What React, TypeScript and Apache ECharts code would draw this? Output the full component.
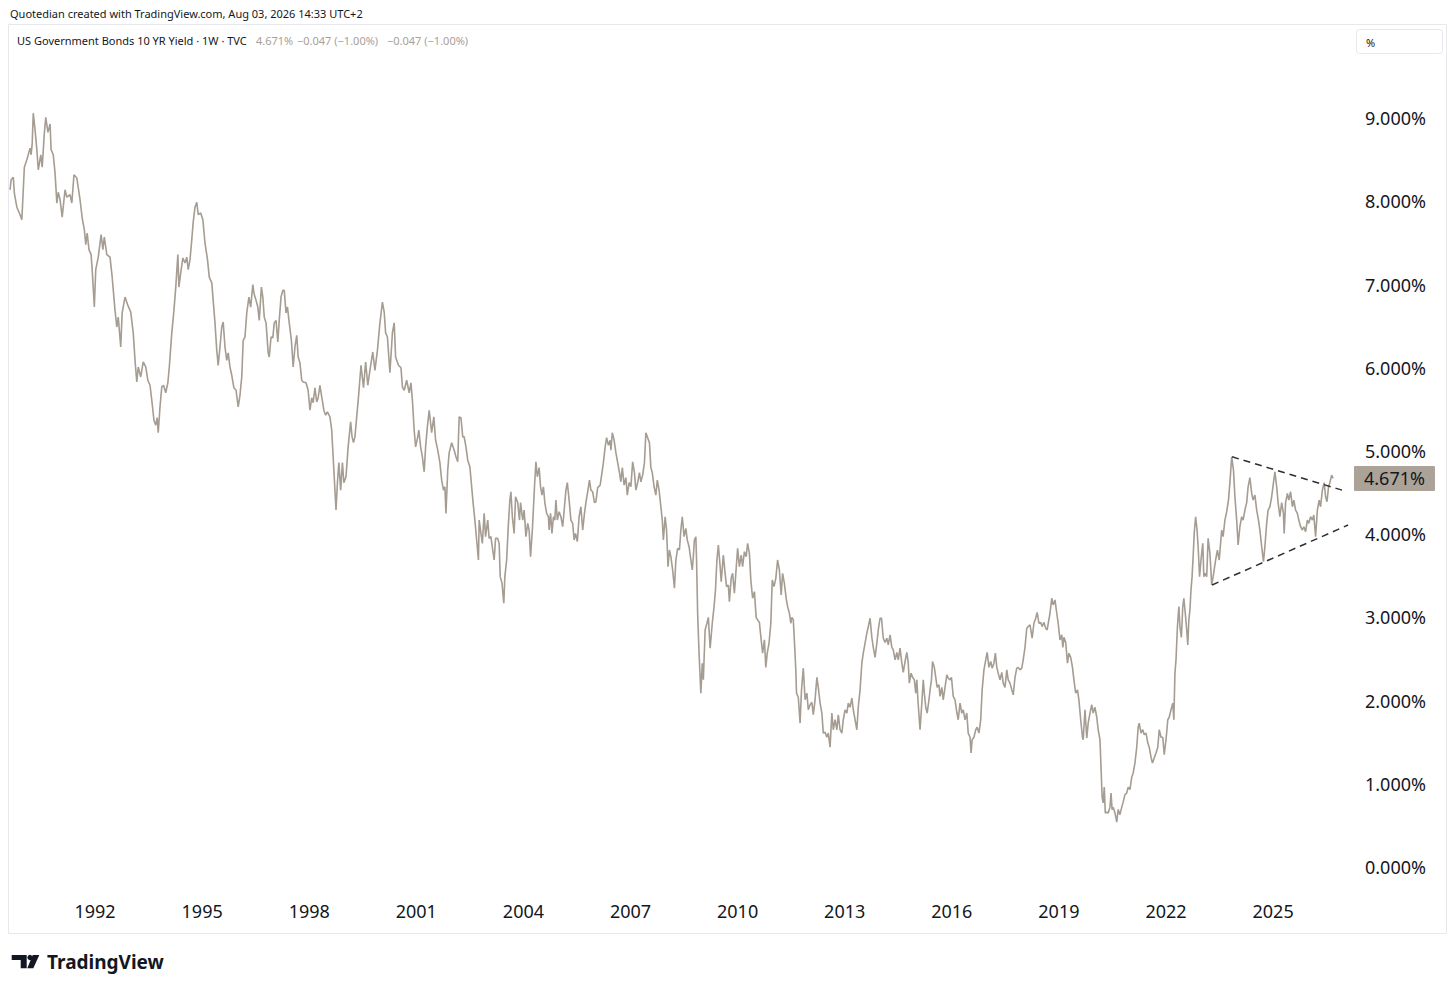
import React, { useEffect, useRef } from "react";
import * as echarts from "echarts";

// Weekly-ish US 10Y yield, [decimal year, yield %]
const yieldPoints: [number, number][] = [
  [1989.62,8.14],[1989.65,8.26],[1989.71,8.29],[1989.74,8.10],[1989.81,7.93],[1989.90,7.84],[1989.95,7.78],[1990.02,8.41],[1990.09,8.50],[1990.18,8.64],[1990.21,8.56],[1990.24,8.70],[1990.27,9.06],[1990.32,8.86],[1990.37,8.62],[1990.41,8.38],[1990.48,8.56],[1990.52,8.41],[1990.58,8.82],[1990.62,9.01],[1990.68,8.83],[1990.74,8.93],[1990.77,8.62],[1990.83,8.56],[1990.88,8.34],[1990.93,7.98],[1990.97,8.11],[1991.02,8.02],[1991.08,7.81],[1991.16,8.14],[1991.21,8.05],[1991.30,8.08],[1991.35,7.98],[1991.41,8.32],[1991.49,8.28],[1991.58,8.02],[1991.64,7.80],[1991.70,7.66],[1991.74,7.48],[1991.78,7.62],[1991.83,7.42],[1991.89,7.36],[1991.92,7.18],[1991.98,6.73],
  [1992.02,7.18],[1992.09,7.33],[1992.17,7.60],[1992.22,7.42],[1992.26,7.57],[1992.33,7.36],[1992.42,7.33],[1992.48,7.09],[1992.56,6.69],[1992.61,6.49],[1992.65,6.61],[1992.72,6.25],[1992.76,6.66],[1992.84,6.85],[1992.92,6.75],[1993.00,6.67],[1993.07,6.42],[1993.12,6.09],[1993.17,5.83],[1993.21,6.01],[1993.28,5.89],[1993.35,6.07],[1993.42,6.01],[1993.48,5.85],[1993.54,5.79],[1993.59,5.61],[1993.65,5.37],[1993.70,5.31],[1993.74,5.40],[1993.77,5.22],[1993.82,5.53],[1993.87,5.77],[1993.92,5.79],[1993.98,5.70],[1994.04,5.82],[1994.08,6.01],[1994.15,6.42],[1994.21,6.69],[1994.26,6.96],[1994.32,7.36],[1994.35,6.97],[1994.40,7.14],[1994.46,7.32],
  [1994.52,7.26],[1994.57,7.33],[1994.61,7.18],[1994.66,7.30],[1994.71,7.54],[1994.75,7.75],[1994.80,7.93],[1994.85,7.99],[1994.89,7.84],[1994.96,7.86],[1995.02,7.78],[1995.08,7.50],[1995.15,7.30],[1995.20,7.09],[1995.27,7.02],[1995.31,6.81],[1995.36,6.54],[1995.41,6.21],[1995.45,6.03],[1995.50,6.25],[1995.55,6.49],[1995.59,6.55],[1995.64,6.25],[1995.69,6.09],[1995.73,6.18],[1995.78,6.01],[1995.83,5.91],[1995.89,5.76],[1995.95,5.73],[1996.01,5.53],[1996.06,5.67],[1996.11,5.89],[1996.15,6.33],[1996.20,6.37],[1996.25,6.66],[1996.31,6.85],[1996.36,6.73],[1996.42,7.00],[1996.45,6.90],[1996.51,6.81],[1996.56,6.73],[1996.60,6.57],[1996.66,6.97],[1996.70,6.85],[1996.74,6.61],[1996.79,6.54],[1996.85,6.18],[1996.88,6.13],[1996.93,6.37],[1996.98,6.36],
  [1997.02,6.54],[1997.07,6.57],[1997.12,6.31],[1997.16,6.57],[1997.21,6.85],[1997.26,6.93],[1997.30,6.93],[1997.35,6.66],[1997.39,6.73],[1997.44,6.54],[1997.50,6.33],[1997.55,6.01],[1997.60,6.25],[1997.65,6.39],[1997.69,6.13],[1997.74,6.06],[1997.79,5.85],[1997.83,5.83],[1997.91,5.82],[1997.97,5.73],[1998.02,5.49],[1998.07,5.64],[1998.11,5.58],[1998.16,5.76],[1998.21,5.59],[1998.25,5.64],[1998.30,5.79],[1998.35,5.65],[1998.41,5.49],[1998.46,5.43],[1998.51,5.47],[1998.58,5.41],[1998.63,5.25],[1998.67,4.93],[1998.72,4.53],[1998.75,4.29],[1998.79,4.62],[1998.83,4.86],[1998.88,4.53],[1998.93,4.86],[1998.97,4.62],[1999.03,4.69],[1999.09,5.05],[1999.16,5.35],[1999.20,5.17],[1999.24,5.10],
  [1999.28,5.17],[1999.38,5.65],[1999.45,6.03],[1999.52,5.76],[1999.58,6.07],[1999.64,5.79],[1999.70,5.97],[1999.78,6.19],[1999.84,5.97],[1999.91,6.21],[1999.98,6.54],[2000.05,6.79],[2000.10,6.67],[2000.14,6.42],[2000.19,6.37],[2000.26,5.94],[2000.33,6.42],[2000.38,6.54],[2000.42,6.13],[2000.50,6.03],[2000.57,6.00],[2000.61,5.77],[2000.66,5.73],[2000.73,5.85],[2000.80,5.70],[2000.85,5.82],[2000.89,5.61],[2000.94,5.25],[2000.98,5.05],[2001.04,5.17],[2001.07,5.25],[2001.12,5.05],[2001.17,4.93],[2001.22,4.75],[2001.26,5.05],[2001.31,5.29],[2001.36,5.49],[2001.43,5.22],[2001.49,5.41],[2001.54,5.13],[2001.60,5.01],[2001.66,4.86],[2001.71,4.65],[2001.76,4.53],[2001.80,4.57],[2001.83,4.25],[2001.88,4.77],[2001.92,4.98],[2001.99,5.10],
  [2002.06,5.01],[2002.11,4.93],[2002.16,4.87],[2002.20,5.41],[2002.25,5.40],[2002.30,5.17],[2002.34,5.17],[2002.39,5.05],[2002.44,4.89],[2002.50,4.81],[2002.55,4.57],[2002.59,4.38],[2002.64,4.17],[2002.69,3.93],[2002.74,3.69],[2002.76,4.17],[2002.81,4.01],[2002.85,3.89],[2002.90,4.25],[2002.94,3.97],[2003.00,4.17],[2003.04,3.95],[2003.09,3.97],[2003.14,3.81],[2003.18,3.69],[2003.22,3.95],[2003.28,3.95],[2003.32,3.89],[2003.35,3.49],[2003.40,3.41],[2003.45,3.17],[2003.48,3.49],[2003.53,3.69],[2003.58,4.13],[2003.62,4.41],[2003.65,4.51],[2003.69,4.21],[2003.74,4.01],[2003.78,4.45],[2003.84,4.38],[2003.89,4.17],[2003.92,4.38],[2003.98,4.17],[2004.02,4.29],[2004.07,3.97],[2004.12,4.13],[2004.16,4.05],[2004.20,3.73],[2004.25,4.05],[2004.31,4.57],
  [2004.35,4.87],[2004.39,4.69],[2004.44,4.80],[2004.48,4.57],[2004.52,4.47],[2004.56,4.57],[2004.60,4.38],[2004.65,4.25],[2004.70,4.21],[2004.72,4.05],[2004.76,4.25],[2004.80,4.01],[2004.84,4.21],[2004.88,4.17],[2004.91,4.41],[2004.95,4.17],[2005.00,4.27],[2005.05,4.21],[2005.10,4.09],[2005.15,4.33],[2005.19,4.53],[2005.23,4.62],[2005.28,4.41],[2005.33,4.17],[2005.38,4.13],[2005.42,3.93],[2005.46,4.01],[2005.51,3.91],[2005.56,4.21],[2005.61,4.33],[2005.66,4.05],[2005.71,4.25],[2005.75,4.38],[2005.80,4.51],[2005.85,4.65],[2005.89,4.53],[2005.94,4.51],[2005.99,4.38],[2006.03,4.39],[2006.08,4.56],[2006.15,4.59],[2006.19,4.71],[2006.24,4.86],[2006.29,5.05],[2006.33,5.16],[2006.38,5.07],[2006.43,5.13],[2006.45,5.01],[2006.49,5.22],[2006.54,5.13],[2006.59,4.98],[2006.64,4.86],[2006.69,4.74],[2006.73,4.63],[2006.77,4.80],[2006.82,4.59],[2006.87,4.68],[2006.91,4.47],[2006.96,4.62],
  [2007.01,4.57],[2007.06,4.87],[2007.11,4.74],[2007.15,4.53],[2007.20,4.62],[2007.25,4.74],[2007.29,4.63],[2007.34,4.71],[2007.39,4.86],[2007.43,5.22],[2007.48,5.16],[2007.53,5.10],[2007.57,4.80],[2007.61,4.74],[2007.66,4.57],[2007.71,4.47],[2007.75,4.65],[2007.80,4.53],[2007.85,4.33],[2007.89,4.17],[2007.92,3.93],[2007.97,4.21],[2008.01,4.05],[2008.05,3.61],[2008.09,3.81],[2008.13,3.73],[2008.18,3.57],[2008.23,3.35],[2008.27,3.69],[2008.32,3.83],[2008.37,3.81],[2008.41,4.05],[2008.45,4.21],[2008.50,3.97],[2008.55,4.07],[2008.59,3.93],[2008.64,3.85],[2008.69,3.69],[2008.73,3.57],[2008.76,3.73],[2008.79,3.93],[2008.83,3.97],[2008.85,3.69],[2008.88,3.05],[2008.92,2.57],[2008.97,2.09],[2009.01,2.45],[2009.04,2.25],[2009.09,2.85],[2009.14,2.93],
  [2009.18,3.00],[2009.23,2.63],[2009.29,2.93],[2009.34,3.13],[2009.38,3.33],[2009.42,3.69],[2009.46,3.87],[2009.51,3.61],[2009.54,3.43],[2009.60,3.75],[2009.65,3.53],[2009.69,3.37],[2009.74,3.39],[2009.77,3.19],[2009.82,3.47],[2009.86,3.53],[2009.91,3.29],[2009.95,3.53],[2010.00,3.83],[2010.05,3.61],[2010.10,3.75],[2010.14,3.61],[2010.19,3.79],[2010.24,3.73],[2010.28,3.89],[2010.33,3.77],[2010.37,3.45],[2010.42,3.23],[2010.47,3.31],[2010.52,3.00],[2010.56,2.97],[2010.61,2.94],[2010.66,2.73],[2010.70,2.57],[2010.75,2.73],[2010.79,2.40],[2010.83,2.57],[2010.88,2.69],[2010.93,2.93],[2010.97,3.45],[2011.02,3.37],[2011.07,3.47],[2011.12,3.69],[2011.17,3.57],[2011.22,3.27],[2011.26,3.53],[2011.31,3.41],[2011.36,3.23],[2011.40,3.13],[2011.45,3.05],[2011.49,2.93],[2011.52,3.00],[2011.56,2.97],[2011.60,2.64],[2011.63,2.37],[2011.65,2.09],[2011.70,2.04],[2011.75,1.73],[2011.79,2.13],[2011.84,2.39],[2011.89,2.01],[2011.94,2.09],[2011.98,1.89],
  [2012.03,1.95],[2012.08,1.98],[2012.12,1.83],[2012.17,2.01],[2012.22,2.28],[2012.26,2.16],[2012.31,1.97],[2012.36,1.85],[2012.40,1.61],[2012.45,1.62],[2012.50,1.56],[2012.54,1.61],[2012.59,1.44],[2012.64,1.85],[2012.68,1.65],[2012.73,1.77],[2012.78,1.65],[2012.82,1.83],[2012.87,1.65],[2012.92,1.61],[2012.96,1.77],[2013.01,1.89],[2013.06,1.85],[2013.10,1.97],[2013.15,1.92],[2013.20,2.03],[2013.24,1.89],[2013.29,1.77],[2013.34,1.65],[2013.38,1.92],[2013.43,2.13],[2013.48,2.45],[2013.52,2.57],[2013.57,2.69],[2013.62,2.81],[2013.66,2.89],[2013.71,2.99],[2013.76,2.76],[2013.80,2.64],[2013.85,2.52],[2013.90,2.69],[2013.94,2.85],[2013.99,2.99],[2014.03,2.99],
  [2014.08,2.75],[2014.13,2.70],[2014.18,2.75],[2014.22,2.67],[2014.27,2.79],[2014.32,2.64],[2014.36,2.61],[2014.41,2.49],[2014.46,2.58],[2014.50,2.49],[2014.55,2.63],[2014.60,2.45],[2014.64,2.34],[2014.69,2.47],[2014.74,2.58],[2014.78,2.45],[2014.81,2.21],[2014.86,2.33],[2014.90,2.28],[2014.95,2.25],[2014.99,2.09],[2015.02,2.25],[2015.05,2.01],[2015.09,1.77],[2015.11,1.65],[2015.16,1.97],[2015.20,2.25],[2015.23,2.09],[2015.27,1.92],[2015.31,1.85],[2015.36,2.01],[2015.40,2.16],[2015.43,2.25],[2015.46,2.47],[2015.51,2.40],[2015.55,2.28],[2015.59,2.16],[2015.64,2.19],[2015.67,2.05],[2015.72,2.16],[2015.76,2.01],[2015.81,2.16],[2015.86,2.31],[2015.90,2.27],[2015.95,2.25],[2015.99,2.28],
  [2016.04,2.05],[2016.09,2.01],[2016.14,1.86],[2016.18,1.77],[2016.23,1.97],[2016.28,1.85],[2016.32,1.89],[2016.37,1.77],[2016.42,1.85],[2016.46,1.61],[2016.51,1.56],[2016.54,1.37],[2016.57,1.53],[2016.62,1.56],[2016.67,1.65],[2016.71,1.68],[2016.76,1.61],[2016.81,1.77],[2016.85,2.13],[2016.90,2.37],[2016.95,2.49],[2016.99,2.58],[2017.04,2.40],[2017.09,2.47],[2017.13,2.39],[2017.18,2.45],[2017.22,2.57],[2017.26,2.40],[2017.30,2.33],[2017.35,2.25],[2017.40,2.34],[2017.44,2.21],[2017.49,2.16],[2017.54,2.37],[2017.58,2.25],[2017.63,2.21],[2017.68,2.13],[2017.72,2.07],[2017.77,2.28],[2017.82,2.39],[2017.86,2.40],[2017.91,2.37],[2017.96,2.39],
  [2018.00,2.49],[2018.05,2.64],[2018.10,2.87],[2018.14,2.89],[2018.19,2.91],[2018.25,2.75],[2018.30,2.93],[2018.35,2.99],[2018.39,3.06],[2018.44,2.93],[2018.49,2.94],[2018.53,2.89],[2018.58,2.94],[2018.63,2.87],[2018.67,2.85],[2018.75,3.05],[2018.80,3.23],[2018.84,3.15],[2018.89,3.21],[2018.94,3.05],[2018.98,2.93],[2019.03,2.73],[2019.08,2.79],[2019.11,2.64],[2019.14,2.76],[2019.19,2.70],[2019.24,2.45],[2019.28,2.57],[2019.33,2.52],[2019.38,2.40],[2019.42,2.25],[2019.47,2.09],[2019.52,2.13],[2019.56,2.01],[2019.61,1.77],[2019.66,1.56],[2019.68,1.53],[2019.73,1.89],[2019.78,1.55],[2019.82,1.73],[2019.87,1.85],[2019.92,1.95],[2019.96,1.85],
  [2020.01,1.92],[2020.06,1.80],[2020.10,1.65],[2020.15,1.53],[2020.18,1.20],[2020.21,0.84],[2020.24,0.77],[2020.27,0.96],[2020.30,0.65],[2020.34,0.66],[2020.38,0.65],[2020.43,0.72],[2020.46,0.89],[2020.49,0.69],[2020.52,0.72],[2020.57,0.65],[2020.62,0.54],[2020.66,0.69],[2020.71,0.63],[2020.76,0.72],[2020.80,0.78],[2020.85,0.87],[2020.90,0.89],[2020.94,0.96],[2020.99,0.93],[2021.04,1.08],[2021.08,1.13],[2021.13,1.25],[2021.18,1.44],[2021.22,1.68],[2021.25,1.73],[2021.30,1.61],[2021.35,1.65],[2021.39,1.59],[2021.44,1.61],[2021.49,1.49],[2021.53,1.44],[2021.58,1.32],[2021.62,1.25],[2021.67,1.31],[2021.72,1.37],[2021.77,1.44],[2021.81,1.65],[2021.86,1.56],[2021.91,1.56],[2021.95,1.35],
  [2022.00,1.53],[2022.05,1.77],[2022.09,1.80],[2022.14,1.89],[2022.19,1.97],[2022.22,1.77],[2022.25,2.33],[2022.28,2.49],[2022.32,2.89],[2022.36,3.13],[2022.39,2.89],[2022.43,2.76],[2022.47,3.13],[2022.50,3.23],[2022.54,3.05],[2022.58,2.85],[2022.61,2.67],[2022.64,2.97],[2022.67,3.09],[2022.70,3.33],[2022.73,3.49],[2022.76,3.73],[2022.79,4.01],[2022.83,4.21],[2022.87,4.05],[2022.90,3.85],[2022.94,3.49],[2022.98,3.69],[2023.03,3.89],[2023.06,3.49],[2023.10,3.53],[2023.14,3.49],[2023.18,3.95],[2023.23,3.77],[2023.28,3.39],[2023.32,3.49],[2023.39,3.69],[2023.44,3.81],[2023.49,3.69],[2023.56,4.05],[2023.60,3.97],[2023.65,4.17],[2023.70,4.27],[2023.75,4.41],[2023.79,4.62],[2023.84,4.93],[2023.89,4.77],[2023.93,4.45],[2023.98,4.17],
  [2024.02,3.87],[2024.07,4.09],[2024.12,4.21],[2024.16,4.17],[2024.21,4.29],[2024.26,4.38],[2024.30,4.57],[2024.35,4.68],[2024.40,4.49],[2024.44,4.41],[2024.49,4.47],[2024.54,4.29],[2024.59,4.17],[2024.63,4.05],[2024.68,3.85],[2024.73,3.67],[2024.77,3.85],[2024.82,4.13],[2024.86,4.29],[2024.91,4.33],[2024.96,4.45],[2025.01,4.62],[2025.05,4.75],[2025.10,4.57],[2025.14,4.38],[2025.19,4.21],[2025.24,4.38],[2025.29,4.25],[2025.31,4.01],[2025.35,4.38],[2025.40,4.49],[2025.44,4.41],[2025.49,4.51],[2025.54,4.33],[2025.58,4.41],[2025.63,4.29],[2025.68,4.25],[2025.72,4.17],[2025.77,4.09],[2025.82,4.05],[2025.86,4.09],[2025.91,4.03],[2025.96,4.17],
  [2026.00,4.13],[2026.05,4.21],[2026.10,4.17],[2026.14,4.23],[2026.19,3.97],[2026.24,4.29],[2026.29,4.41],[2026.33,4.33],[2026.38,4.53],[2026.43,4.62],[2026.47,4.45],[2026.51,4.39],[2026.55,4.56],[2026.59,4.62],[2026.64,4.71],[2026.68,4.671],
];

// Hand-drawn triangle trend lines
const upperTrend: [number, number][] = [[2023.85, 4.93], [2026.93, 4.53]];
const lowerTrend: [number, number][] = [[2023.29, 3.39], [2027.1, 4.11]];

const xTickYears = [1992, 1995, 1998, 2001, 2004, 2007, 2010, 2013, 2016, 2019, 2022, 2025];
const yTickValues = [0, 1, 2, 3, 4, 5, 6, 7, 8, 9];
const lastValue = 4.671;

const headerTitle = "Quotedian created with TradingView.com, Aug 03, 2026 14:33 UTC+2";
const legendName = "US Government Bonds 10 YR Yield · 1W · TVC";
const legendValue = "4.671%";
const legendChange = "\u22120.047 (\u22121.00%)";

const LINE_COLOR = "#a59c92";
const TEXT_COLOR = "#131722";
const FONT = "'Noto Sans', sans-serif";

export default function App() {
  const ref = useRef<HTMLDivElement>(null);

  useEffect(() => {
    document.body.style.margin = "0";
    const chart = echarts.init(ref.current!, undefined, { renderer: "svg" });
    chart.setOption({
      animation: false,
      backgroundColor: "#ffffff",
      grid: { left: 9, right: 104, top: 18, bottom: 102, containLabel: false },
      xAxis: {
        type: "value",
        min: 1989.59,
        max: 2027.21,
        axisLine: { show: false },
        axisTick: { show: false },
        splitLine: { show: false },
        axisLabel: {
          customValues: xTickYears,
          formatter: (v: number) => String(Math.round(v)),
          color: TEXT_COLOR,
          fontSize: 18,
          fontFamily: FONT,
          margin: 12,
        },
      },
      yAxis: {
        type: "value",
        position: "right",
        min: -0.276,
        max: 10.204,
        axisLine: { show: false },
        axisTick: { show: false },
        splitLine: { show: false },
        axisLabel: {
          customValues: yTickValues,
          formatter: (v: number) => v.toFixed(3) + "%",
          color: TEXT_COLOR,
          fontSize: 18,
          fontFamily: FONT,
          margin: 13,
        },
      },
      series: [
        {
          type: "line",
          data: yieldPoints,
          showSymbol: false,
          symbol: "none",
          lineStyle: { color: LINE_COLOR, width: 1.6 },
          z: 3,
          markLine: {
            silent: true,
            symbol: "none",
            lineStyle: { color: "rgba(0,0,0,0)", width: 1, type: "solid" },
            data: [{ yAxis: lastValue }],
            label: {
              show: true,
              position: "end",
              distance: 2,
              formatter: lastValue.toFixed(3) + "%",
              backgroundColor: "#aba298",
              color: TEXT_COLOR,
              fontSize: 18,
              fontFamily: FONT,
              padding: [4, 10, 3, 10],
              borderRadius: 1,
            },
          },
        },
        {
          type: "line",
          data: upperTrend,
          symbol: "none",
          lineStyle: { color: "#2f2f2f", width: 1.5, type: [7, 5] },
          z: 4,
        },
        {
          type: "line",
          data: lowerTrend,
          symbol: "none",
          lineStyle: { color: "#2f2f2f", width: 1.5, type: [7, 5] },
          z: 4,
        },
      ],
      graphic: [
        {
          type: "rect",
          shape: { x: 8.5, y: 24.5, width: 1438, height: 909 },
          style: { fill: "none", stroke: "#e6e8ee", lineWidth: 1 },
          silent: true,
        },
        {
          type: "text",
          x: 10,
          y: 13,
          style: { text: headerTitle, fill: TEXT_COLOR, font: `11px ${FONT}`, verticalAlign: "middle" },
        },
        {
          type: "text",
          x: 17,
          y: 40,
          style: { text: legendName, fill: TEXT_COLOR, font: `11px ${FONT}`, verticalAlign: "middle" },
        },
        {
          type: "text",
          x: 256,
          y: 40,
          style: { text: legendValue, fill: "#a8a098", font: `11px ${FONT}`, verticalAlign: "middle" },
        },
        {
          type: "text",
          x: 297,
          y: 40,
          style: { text: legendChange, fill: "#a8a098", font: `11px ${FONT}`, verticalAlign: "middle" },
        },
        {
          type: "text",
          x: 387,
          y: 40,
          style: { text: legendChange, fill: "#a8a098", font: `11px ${FONT}`, verticalAlign: "middle" },
        },
        {
          type: "rect",
          shape: { x: 1356.5, y: 29.5, width: 86, height: 24, r: 3 },
          style: { fill: "#ffffff", stroke: "#e6e8ee", lineWidth: 1 },
        },
        {
          type: "text",
          x: 1366,
          y: 42,
          style: { text: "%", fill: TEXT_COLOR, font: `11px ${FONT}`, verticalAlign: "middle" },
        },
        {
          type: "polygon",
          shape: { points: [[11.7, 955], [26.7, 955], [26.7, 968.3], [20.7, 968.3], [20.7, 960], [11.7, 960]] },
          style: { fill: TEXT_COLOR },
        },
        {
          type: "circle",
          shape: { cx: 30, cy: 957.5, r: 2.6 },
          style: { fill: TEXT_COLOR },
        },
        {
          type: "polygon",
          shape: { points: [[32.7, 955], [39.3, 955], [33.3, 968.3], [27.3, 968.3]] },
          style: { fill: TEXT_COLOR },
        },
        {
          type: "text",
          x: 47,
          y: 962,
          style: { text: "TradingView", fill: TEXT_COLOR, font: `bold 19px ${FONT}`, verticalAlign: "middle" },
        },
      ],
    });
    return () => chart.dispose();
  }, []);

  return (
    <div
      ref={ref}
      style={{ position: "fixed", left: 0, top: 0, width: 1456, height: 992, background: "#ffffff" }}
    />
  );
}
